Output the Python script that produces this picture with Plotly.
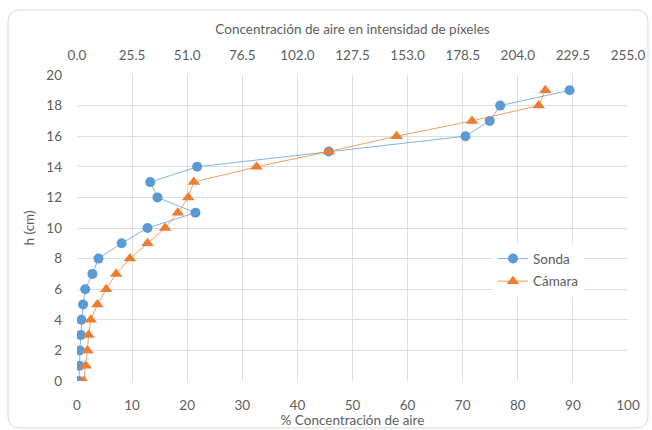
import plotly.graph_objects as go

# Heights (cm) and air concentration (%) per measuring method
h_cm = [0, 1, 2, 3, 4, 5, 6, 7, 8, 9, 10, 11, 12, 13, 14, 15, 16, 17, 18, 19]
sonda = [0.3, 0.5, 0.5, 0.7, 0.8, 1.1, 1.5, 2.8, 3.9, 8.1, 12.8, 21.5, 14.6, 13.3,
         21.8, 45.7, 70.5, 74.9, 76.8, 89.4]
camara = [1.2, 1.6, 1.9, 2.1, 2.5, 3.7, 5.3, 7.1, 9.6, 12.8, 16.0, 18.3, 20.2, 21.2,
          32.6, 45.7, 58.0, 71.7, 83.8, 85.0]

pct_ticks = list(range(0, 101, 10))
h_ticks = list(range(0, 21, 2))
pixel_ticks = [round(v * 2.55, 1) for v in pct_ticks]  # 0..255 pixel intensity

BLUE = "#5B9BD5"
ORANGE = "#ED7D31"
GRID = "#DEDEDE"
TXT = "#606060"
FONT = "Lato, 'Open Sans', sans-serif"
FS = 13.5

fig = go.Figure()
fig.add_trace(go.Scatter(
    x=sonda, y=h_cm, name="Sonda", mode="lines+markers",
    line=dict(color="rgba(91,155,213,0.75)", width=1),
    marker=dict(symbol="circle", size=10, color=BLUE),
    legendgroup="s",
))
fig.add_trace(go.Scatter(
    x=camara, y=h_cm, name="Cámara", mode="lines+markers",
    line=dict(color="rgba(237,125,49,0.75)", width=1),
    marker=dict(symbol="triangle-up", size=11, color=ORANGE),
    legendgroup="c",
))
# secondary scale in pixel intensity (same data, rescaled) to anchor the top axis
fig.add_trace(go.Scatter(
    x=[v * 2.55 for v in sonda], y=h_cm, xaxis="x2", mode="markers",
    marker=dict(opacity=0), showlegend=False, hoverinfo="skip",
))

# card outline with rounded corners (paper coordinates)
L, R, T, B = -0.1252, 1.0363, 1.2124, -0.1536
rx, ry = 0.022, 0.039
path = (f"M {L+rx},{T} L {R-rx},{T} Q {R},{T} {R},{T-ry} L {R},{B+ry} "
        f"Q {R},{B} {R-rx},{B} L {L+rx},{B} Q {L},{B} {L},{B+ry} "
        f"L {L},{T-ry} Q {L},{T} {L+rx},{T} Z")

fig.update_layout(
    width=652, height=430,
    margin=dict(l=77, r=24, t=75, b=49, autoexpand=False),
    paper_bgcolor="white", plot_bgcolor="white",
    font=dict(family=FONT, size=FS, color=TXT),
    showlegend=True,
    legend=dict(
        x=0.755, y=0.45, xanchor="left", yanchor="top",
        bgcolor="white", font=dict(size=FS, color=TXT),
        tracegroupgap=2, traceorder="grouped",
    ),
    xaxis=dict(
        range=[0, 100], tickvals=pct_ticks, showgrid=True, gridcolor=GRID,
        gridwidth=1, zeroline=False, showline=False, ticks="",
        ticklabelstandoff=14, automargin=False,
        title=dict(text="% Concentración de aire", standoff=4,
                   font=dict(size=FS, color=TXT)),
    ),
    xaxis2=dict(
        range=[0, 255], tickvals=pixel_ticks, tickformat=".1f",
        overlaying="x", side="top", showgrid=False, zeroline=False,
        showline=False, ticks="", ticklabelstandoff=11, automargin=False,
        title=dict(text="Concentración de aire en intensidad de píxeles",
                   standoff=9, font=dict(size=FS, color=TXT)),
    ),
    yaxis=dict(
        range=[0, 20], tickvals=h_ticks, showgrid=True, gridcolor=GRID,
        gridwidth=1, zeroline=False, showline=False, ticks="",
        ticklabelstandoff=14, automargin=False,
        title=dict(text="h (cm)", standoff=8, font=dict(size=FS, color=TXT)),
    ),
    shapes=[dict(type="path", xref="paper", yref="paper", path=path,
                 line=dict(color="#D9D9D9", width=1), layer="below")],
)

fig.write_html("out.html")
